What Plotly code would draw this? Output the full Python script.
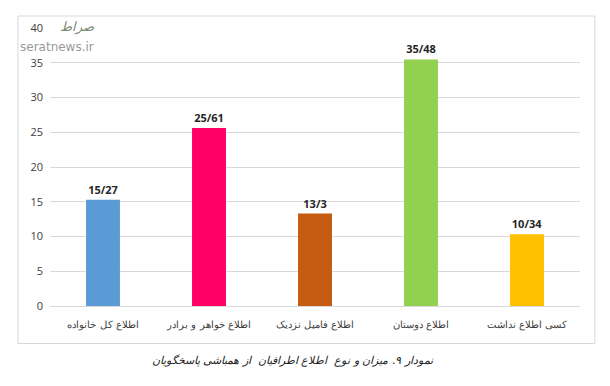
import plotly.graph_objects as go

categories = ["اطلاع کل خانواده", "اطلاع خواهر و برادر", "اطلاع فامیل نزدیک", "اطلاع دوستان", "کسی اطلاع نداشت"]
values = [15.27, 25.61, 13.3, 35.48, 10.34]
value_labels = ["15/27", "25/61", "13/3", "35/48", "10/34"]
colors = ["#5B9BD5", "#FF0066", "#C55A11", "#92D050", "#FFC000"]
y_ticks = [0, 5, 10, 15, 20, 25, 30, 35, 40]
caption = "نمودار ۹. میزان و نوع  اطلاع اطرافیان  از همباشی پاسخگویان"

fig = go.Figure()
fig.add_trace(go.Bar(
    x=categories, y=values, marker=dict(color=colors, line=dict(width=0)),
    width=0.32, text=value_labels, textposition="outside", cliponaxis=False,
    textfont=dict(family="Open Sans, DejaVu Sans", size=11, color="#262626"),
    texttemplate="<b>%{text}</b>",
))

fig.update_layout(
    width=602, height=378,
    margin=dict(l=42, r=30, t=17, b=80),
    paper_bgcolor="white", plot_bgcolor="white",
    showlegend=False,
    xaxis=dict(
        showgrid=False, showline=True, linecolor="#D9D9D9", linewidth=1,
        ticks="", ticklabelstandoff=9,
        tickfont=dict(family="DejaVu Serif, Liberation Serif, serif", size=10, color="#404040"),
        range=[-0.5, 4.5],
    ),
    yaxis=dict(
        range=[0, 40], tickvals=y_ticks, showgrid=True, gridcolor="#D9D9D9", gridwidth=1,
        zeroline=False, showline=False, ticks="", ticklabelstandoff=6,
        tickfont=dict(family="Open Sans, DejaVu Sans", size=11, color="#404040"),
    ),
    font=dict(family="DejaVu Sans"),
)

# chart frame
fig.add_shape(type="rect", xref="paper", yref="paper",
              x0=-0.0604, x1=1.028, y0=-0.135, y1=1.043,
              line=dict(color="#D9D9D9", width=1), fillcolor="rgba(0,0,0,0)", layer="below")

# caption
fig.add_annotation(xref="paper", yref="paper", x=0.458, y=-0.228, showarrow=False,
                   text="<i>" + caption + "</i>",
                   font=dict(family="DejaVu Serif, serif", size=11, color="#222222"))

# watermark
fig.add_annotation(xref="paper", yref="paper", x=-0.0604, y=1.043, xanchor="left", yanchor="top",
                   xshift=0, yshift=-22, showarrow=False, text="seratnews.ir",
                   font=dict(family="DejaVu Sans", size=12, color="#9a9a9a"))
fig.add_annotation(xref="paper", yref="paper", x=-0.0604, y=1.043, xanchor="left", yanchor="top",
                   xshift=40, yshift=-1, showarrow=False, text="<i>صراط</i>",
                   font=dict(family="DejaVu Serif", size=13, color="#7a8a70"))

fig.write_html("out.html")
